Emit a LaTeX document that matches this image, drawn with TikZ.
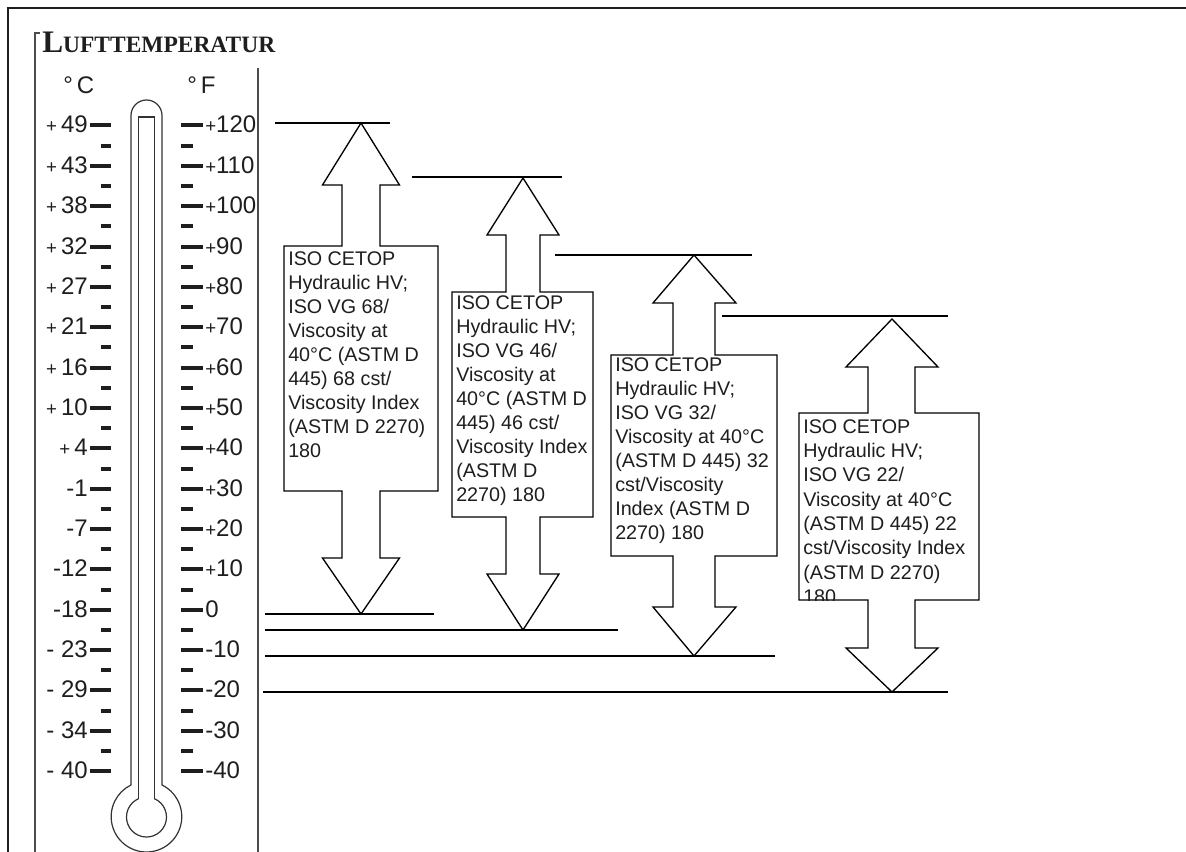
\documentclass[tikz,border=0pt]{standalone}
\usepackage{fontspec}
\setmainfont{Liberation Serif}
\newfontfamily\lsans{Liberation Sans}
\newcommand\smplus{{\fontsize{14pt}{14pt}\selectfont +}}
\definecolor{ink}{HTML}{1E1E1E}
\begin{document}
\begin{tikzpicture}[x=0.75pt,y=-0.75pt,
  frame/.style={draw=ink, line width=1.5pt},
  thin/.style={draw=black!70, line width=0.8pt},
  thermo/.style={draw=black!80, line width=0.9pt},
  arrowshape/.style={draw=black, line width=1pt, line join=miter},
  level/.style={draw=black, line width=1pt},
  majortick/.style={draw=ink, line width=3pt},
  minortick/.style={draw=ink, line width=3pt},
  boxtext/.style={anchor=base west, inner sep=0pt, text=ink,
    font=\lsans\fontsize{14.8pt}{18pt}\selectfont},
  lbl/.style={inner sep=0pt, text=ink, font=\lsans\fontsize{18pt}{20pt}\selectfont}]
\useasboundingbox (0,0) rectangle (1186,852);
\fill[white] (0,0) rectangle (1186,852);

% outer frame
\draw[frame] (8,852) -- (8,8) -- (1186,8);
% inner bracket lines
\draw[thin] (40,33) -- (35,33) -- (35,852);
\draw[thin] (258,68) -- (258,852);

% title
\node[anchor=base west, inner sep=0pt, text=ink] (title) at (42,53)
  {\bfseries\fontsize{23.5pt}{24pt}\selectfont L\fontsize{17.6pt}{20pt}\selectfont UFTTEMPERATUR};

% unit headers
\node[lbl, anchor=base west] (degC) at (63,94) {°\,C};
\node[lbl, anchor=base west] (degF) at (187,94) {°\,F};

% thermometer
\draw[thermo] (131,785) -- (131,115.5) arc[start angle=180, end angle=360, radius=15.5]
  -- (162,785) arc[start angle=-63.9, end angle=243.9, radius=35.3];
\draw[thermo] (154.5,798.7) -- (154.5,117) -- (138.5,117) -- (138.5,798.7);
\draw[thermo] (154.5,798.7) arc[start angle=-66.4, end angle=246.4, radius=20];

% ticks
\foreach \i in {0,...,16} {
  \draw[majortick] (90,{125.5+40.35*\i}) -- (111,{125.5+40.35*\i});
  \draw[majortick] (181,{125.5+40.35*\i}) -- (203,{125.5+40.35*\i});
}
\foreach \i in {0,...,15} {
  \draw[minortick] (100.5,{145.7+40.35*\i}) -- (111,{145.7+40.35*\i});
  \draw[minortick] (181,{145.7+40.35*\i}) -- (192.5,{145.7+40.35*\i});
}

% labels
\foreach \i/\c/\f in {0/\smplus\,49/\smplus120, 1/\smplus\,43/\smplus110, 2/\smplus\,38/\smplus100,
  3/\smplus\,32/\smplus90, 4/\smplus\,27/\smplus80, 5/\smplus\,21/\smplus70, 6/\smplus\,16/\smplus60,
  7/\smplus\,10/\smplus50, 8/\smplus\,4/\smplus40, 9/-1/\smplus30, 10/-7/\smplus20, 11/-12/\smplus10,
  12/-18/0, 13/- 23/-10, 14/- 29/-20, 15/- 34/-30, 16/- 40/-40} {
  \node[lbl, anchor=base east] (c\i) at (88,{133+40.35*\i}) {\c};
  \node[lbl, anchor=base west] (f\i) at (205,{133+40.35*\i}) {\f};
}

% level lines (top)
\draw[level] (275,123) -- (390,123);
\draw[level] (412,177) -- (562,177);
\draw[level] (555,255) -- (752,255);
\draw[level] (722,316) -- (948,316);
% level lines (bottom)
\draw[level] (265,614) -- (434,614);
\draw[level] (265,630) -- (618,630);
\draw[level] (265,656) -- (775,656);
\draw[level] (263,692) -- (948,692);

% arrow 1 (VG 68)
\draw[arrowshape] (361,123) -- (399.5,185) -- (380,185) -- (380,246) -- (438,246) -- (438,491)
  -- (380,491) -- (380,558) -- (399.5,558) -- (361,614) -- (322.5,558) -- (342,558) -- (342,491)
  -- (284,491) -- (284,246) -- (342,246) -- (342,185) -- (322.5,185) -- cycle;
% arrow 2 (VG 46)
\draw[arrowshape] (523,178) -- (559,235) -- (540,235) -- (540,292) -- (593,292) -- (593,517)
  -- (540,517) -- (540,574) -- (559,574) -- (523,630) -- (487,574) -- (506,574) -- (506,517)
  -- (452,517) -- (452,292) -- (506,292) -- (506,235) -- (487,235) -- cycle;
% arrow 3 (VG 32)
\draw[arrowshape] (694,255) -- (736,303) -- (715,303) -- (715,355) -- (777,355) -- (777,556)
  -- (715,556) -- (715,607) -- (736,607) -- (694,656) -- (653,607) -- (673,607) -- (673,556)
  -- (611,556) -- (611,355) -- (673,355) -- (673,303) -- (653,303) -- cycle;
% arrow 4 (VG 22)
\draw[arrowshape] (892,319) -- (938,367) -- (915,367) -- (915,413) -- (979,413) -- (979,600)
  -- (915,600) -- (915,648) -- (938,648) -- (892,692) -- (846,648) -- (868,648) -- (868,600)
  -- (799,600) -- (799,413) -- (868,413) -- (868,367) -- (846,367) -- cycle;

% box texts
\node[boxtext] (t1) at (288,266) {\begin{tabular}[t]{@{}l@{}}ISO CETOP\\Hydraulic HV;\\ISO VG 68/\\Viscosity at\\40°C (ASTM D\\445) 68 cst/\\Viscosity Index\\(ASTM D 2270)\\180\end{tabular}};
\node[boxtext] (t2) at (456,310) {\begin{tabular}[t]{@{}l@{}}ISO CETOP\\Hydraulic HV;\\ISO VG 46/\\Viscosity at\\40°C (ASTM D\\445) 46 cst/\\Viscosity Index\\(ASTM D\\2270) 180\end{tabular}};
\node[boxtext] (t3) at (615,372) {\begin{tabular}[t]{@{}l@{}}ISO CETOP\\Hydraulic HV;\\ISO VG 32/\\Viscosity at 40°C\\(ASTM D 445) 32\\cst/Viscosity\\Index (ASTM D\\2270) 180\end{tabular}};
\begin{scope}
  \clip (799,413) rectangle (979,600);
  \node[boxtext, font=\lsans\fontsize{14.8pt}{18.3pt}\selectfont] (t4) at (803,433) {\begin{tabular}[t]{@{}l@{}}ISO CETOP\\Hydraulic HV;\\ISO VG 22/\\Viscosity at 40°C\\(ASTM D 445) 22\\cst/Viscosity Index\\(ASTM D 2270)\\180\end{tabular}};
\end{scope}
\end{tikzpicture}
\end{document}
